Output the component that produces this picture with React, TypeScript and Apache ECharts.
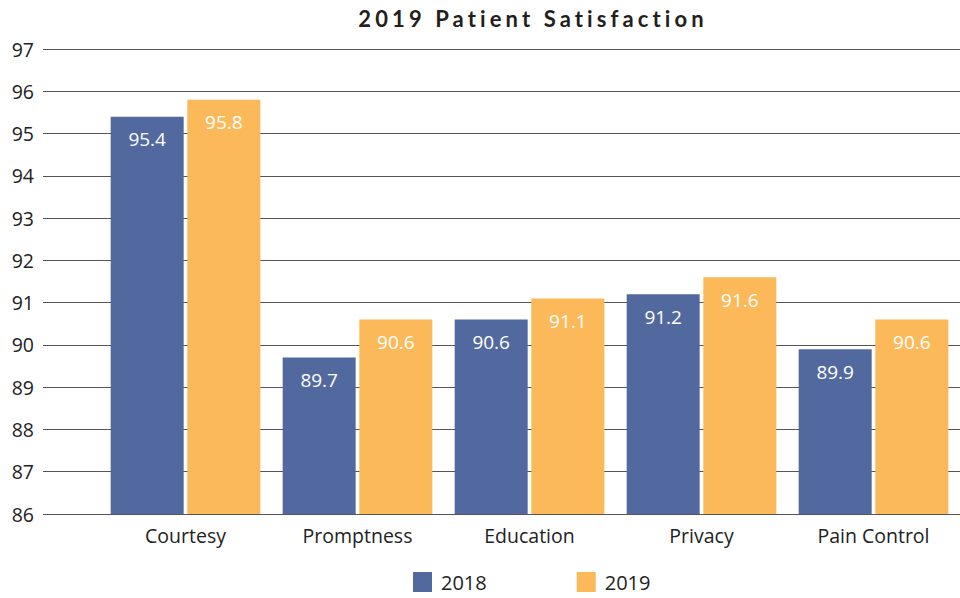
import React, { useEffect, useRef } from "react";
import * as echarts from "echarts";

const categories = ["Courtesy", "Promptness", "Education", "Privacy", "Pain Control"];
const values2018 = [95.4, 89.7, 90.6, 91.2, 89.9];
const values2019 = [95.8, 90.6, 91.1, 91.6, 90.6];
const seriesNames = ["2018", "2019"];
const titleText = "2019 Patient Satisfaction";
const yMin = 86;
const yMax = 97;

export default function App() {
  const ref = useRef<HTMLDivElement>(null);
  useEffect(() => {
    if (!ref.current) return;
    const chart = echarts.init(ref.current, null, { renderer: "svg" });
    const font = "Open Sans";
    chart.setOption({
      animation: false,
      backgroundColor: "#ffffff",
      title: {
        text: titleText,
        left: 528,
        top: 2,
        textAlign: "center",
        textStyle: { fontFamily: "Lato", fontWeight: "bold", fontSize: 22, color: "#231f20" },
      },
      legend: {
        data: seriesNames,
        left: 413,
        top: 572,
        padding: 0,
        itemWidth: 19,
        itemHeight: 20,
        itemGap: 90,
        icon: "rect",
        textStyle: { fontFamily: font, fontSize: 20, color: "#222", padding: [0, 0, 0, 4] },
      },
      grid: [
        { left: 99.5, width: 860, top: 49, height: 465 },
        { left: 43, width: 917, top: 49, height: 465 },
      ],
      xAxis: [
        {
          type: "category",
          gridIndex: 0,
          data: categories,
          axisLine: { show: false },
          axisTick: { show: false },
          axisLabel: { fontFamily: font, fontSize: 19.5, color: "#222", margin: 11 },
        },
        {
          type: "category",
          gridIndex: 1,
          data: categories,
          show: false,
        },
      ],
      yAxis: [
        {
          type: "value",
          gridIndex: 0,
          min: yMin,
          max: yMax,
          interval: 1,
          show: false,
          splitLine: { show: false },
        },
        {
          type: "value",
          gridIndex: 1,
          min: yMin,
          max: yMax,
          interval: 1,
          axisLine: { show: false },
          axisTick: { show: false },
          axisLabel: { fontFamily: font, fontSize: 19.5, color: "#222", margin: 9 },
          splitLine: { show: true, lineStyle: { color: "#555", width: 1 } },
        },
      ],
      series: [
        {
          name: seriesNames[0],
          type: "bar",
          xAxisIndex: 0,
          yAxisIndex: 0,
          data: values2018,
          barWidth: 73,
          barGap: "5%",
          itemStyle: { color: "#52699f" },
          label: {
            show: true,
            position: "insideTop",
            distance: 13,
            color: "#ffffff",
            fontFamily: font,
            fontSize: 19,
          },
        },
        {
          name: seriesNames[1],
          type: "bar",
          xAxisIndex: 0,
          yAxisIndex: 0,
          data: values2019,
          barWidth: 73,
          barGap: "5%",
          itemStyle: { color: "#fcb95a" },
          label: {
            show: true,
            position: "insideTop",
            distance: 13,
            color: "#ffffff",
            fontFamily: font,
            fontSize: 19,
          },
        },
      ],
    });
    const texts = ref.current.querySelectorAll("text");
    texts.forEach((t) => {
      if (t.textContent === titleText) {
        (t as SVGTextElement).style.letterSpacing = "4.1px";
      }
    });
    return () => chart.dispose();
  }, []);
  return (
    <div
      ref={ref}
      style={{ position: "fixed", left: 0, top: 0, width: 960, height: 598 }}
    />
  );
}
